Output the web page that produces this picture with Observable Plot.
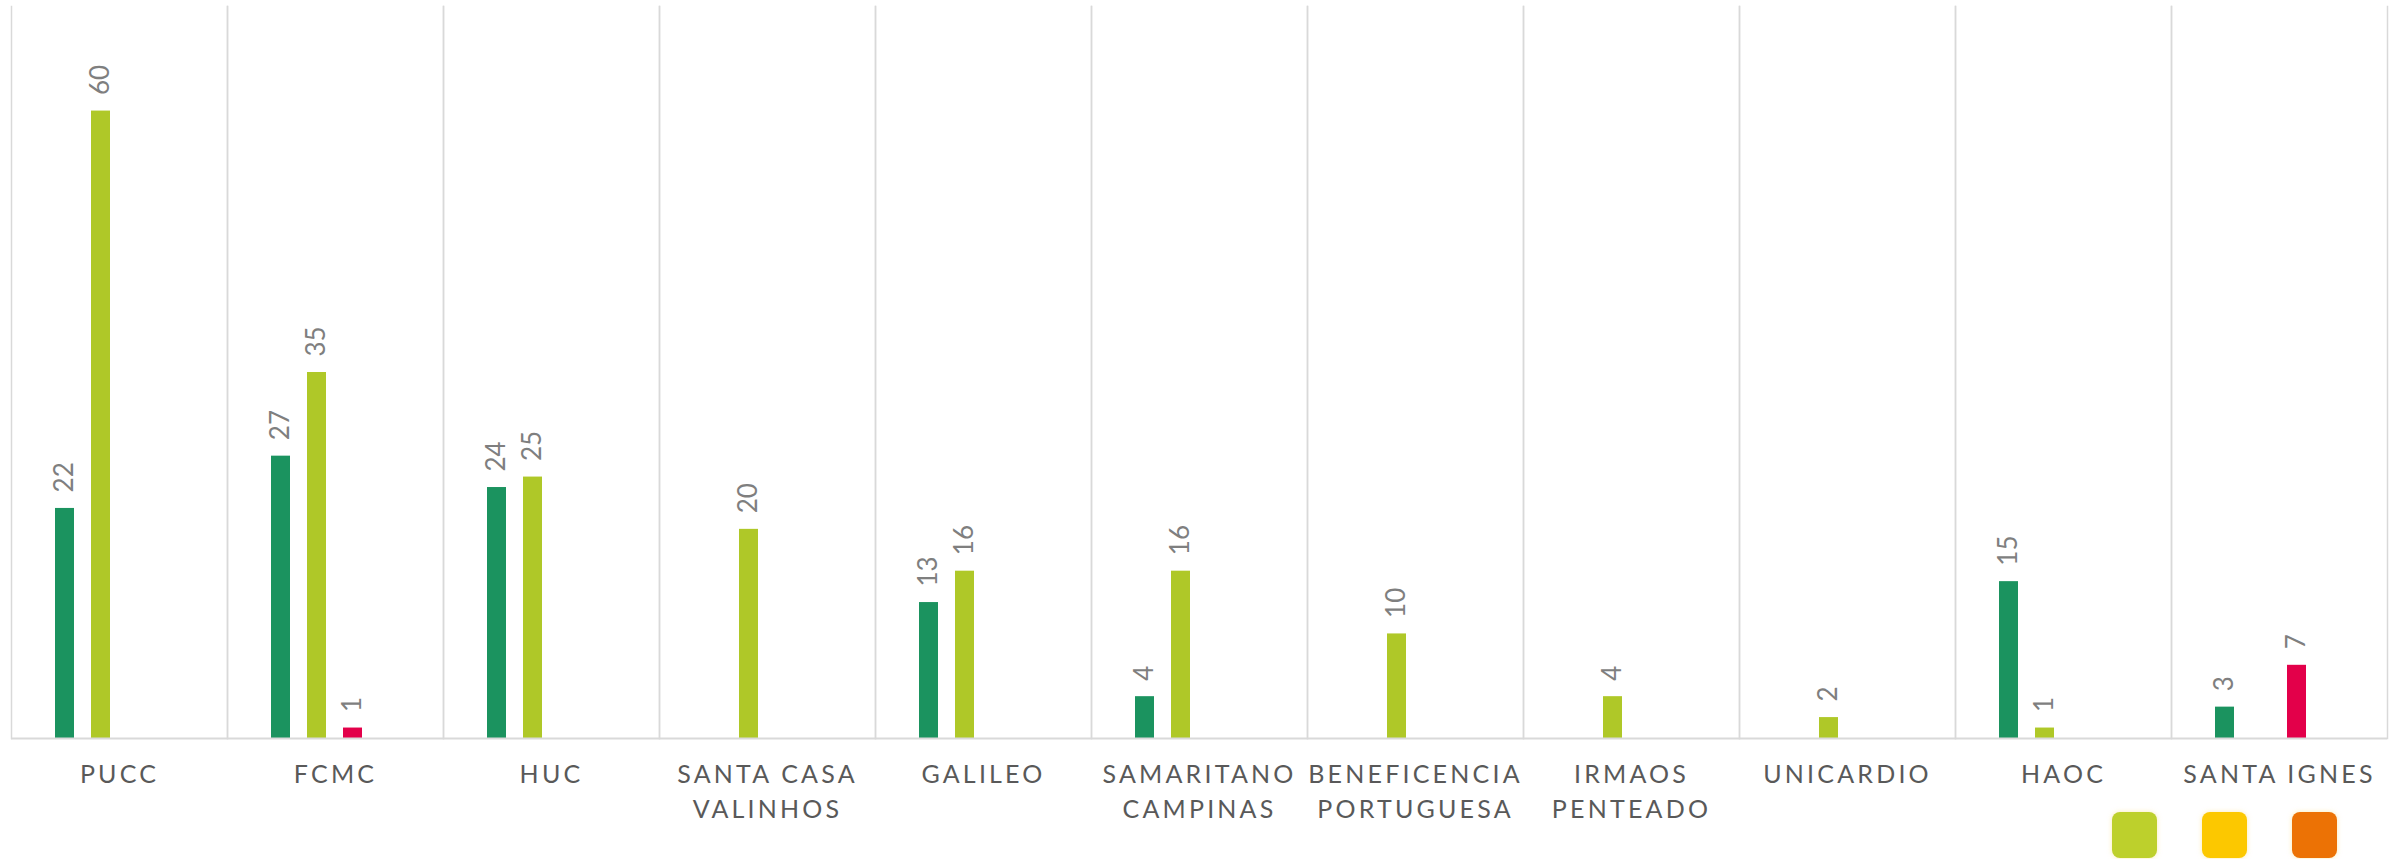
<!DOCTYPE html>
<html>
<head>
<meta charset="utf-8">
<script src="https://cdn.jsdelivr.net/npm/d3@7"></script>
<script src="https://cdn.jsdelivr.net/npm/@observablehq/plot@0.6"></script>
<style>
  html, body { margin: 0; padding: 0; background: #ffffff; }
  #chart svg { display: block; }
  g[aria-label="fx-axis tick label"] text { letter-spacing: 3.2px; }
  #legend { position: absolute; left: 2112px; top: 812px; display: flex; gap: 45px; }
  #legend div { width: 45px; height: 46px; border-radius: 8px; box-shadow: 0 0 5px rgba(250, 220, 120, 0.55); }
</style>
</head>
<body>
<div id="chart"></div>
<div id="legend"></div>
<script>
const categories = ["PUCC", "FCMC", "HUC", "SANTA CASA VALINHOS", "GALILEO", "SAMARITANO CAMPINAS", "BENEFICENCIA PORTUGUESA", "IRMAOS PENTEADO", "UNICARDIO", "HAOC", "SANTA IGNES"];
const tickLabels = ["PUCC", "FCMC", "HUC", "SANTA CASA\nVALINHOS", "GALILEO", "SAMARITANO\nCAMPINAS", "BENEFICENCIA\nPORTUGUESA", "IRMAOS\nPENTEADO", "UNICARDIO", "HAOC", "SANTA IGNES"];
const seriesNames = ["Série 1", "Série 2", "Série 3", "Série 4"];
const series1 = [22, 27, 24, null, 13, 4, null, null, null, 15, 3];
const series2 = [60, 35, 25, 20, 16, 16, 10, 4, 2, 1, null];
const series3 = [null, 1, null, null, null, null, null, null, null, null, 7];
const series4 = [null, null, null, null, null, null, null, null, null, null, null];
const seriesColors = ["#1b935f", "#afc828", "#e3004a", "#f7a600"];
const legendColors = ["#bdd02c", "#fcc800", "#ec7205"];

const allSeries = [series1, series2, series3, series4];
const rows = [];
categories.forEach((c, i) => {
  allSeries.forEach((s, j) => {
    if (s[i] != null) rows.push({hospital: c, series: seriesNames[j], value: s[i]});
  });
});

const font = "Lato, 'Open Sans', sans-serif";

const chart = Plot.plot({
  width: 2397,
  height: 830,
  marginLeft: 11,
  marginRight: 10,
  marginTop: 6,
  marginBottom: 92,
  style: {fontFamily: font, background: "#ffffff"},
  fx: {domain: categories, padding: 0, label: null},
  x: {domain: seriesNames, paddingInner: 0.46, paddingOuter: 1.149, axis: null},
  y: {domain: [0, 70], axis: null},
  color: {domain: seriesNames, range: seriesColors},
  marks: [
    Plot.frame({anchor: "left", stroke: "#d9d9d9", strokeWidth: 1.5}),
    Plot.frame({anchor: "right", stroke: "#d9d9d9", strokeWidth: 1.5}),
    Plot.barY(rows, {fx: "hospital", x: "series", y: "value", fill: "series"}),
    Plot.text(rows, {
      fx: "hospital", x: "series", y: "value",
      text: d => String(d.value),
      rotate: -90, textAnchor: "start", dy: -16,
      fill: "#7f7f7f", fontSize: 26, fontFamily: font
    }),
    Plot.ruleY([0], {stroke: "#d9d9d9", strokeWidth: 2}),
    Plot.axisFx({
      anchor: "bottom", label: null, tickSize: 0, tickPadding: 20,
      fontSize: 25, lineHeight: 1.4, color: "#595959", fill: "#595959",
      tickFormat: d => tickLabels[categories.indexOf(d)]
    })
  ]
});
document.getElementById("chart").appendChild(chart);

const legend = document.getElementById("legend");
legendColors.forEach(c => {
  const sw = document.createElement("div");
  sw.style.background = c;
  legend.appendChild(sw);
});
</script>
</body>
</html>
